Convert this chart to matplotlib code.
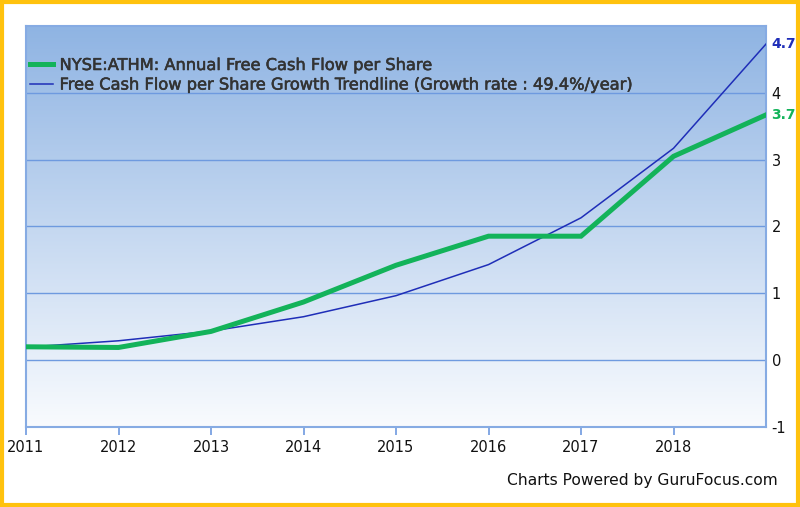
import matplotlib
matplotlib.use("Agg")
import matplotlib.pyplot as plt
import matplotlib.patheffects as pe
import numpy as np
from matplotlib.patches import Rectangle

# ---- data ----
years_idx = list(range(9))  # annual points, first at 2011 tick
fcf_per_share = [0.20, 0.19, 0.43, 0.87, 1.42, 1.855, 1.855, 3.05, 3.67]
trendline = [0.195, 0.29, 0.435, 0.65, 0.965, 1.43, 2.13, 3.17, 4.73]
x_tick_labels = ["2011", "2012", "2013", "2014", "2015", "2016", "2017", "2018"]
y_ticks = [-1, 0, 1, 2, 3, 4]
label_fcf = "NYSE:ATHM: Annual Free Cash Flow per Share"
label_trend = "Free Cash Flow per Share Growth Trendline (Growth rate : 49.4%/year)"
end_fcf_label = "3.7"
end_trend_label = "4.7"

GREEN = "#13b35a"
BLUE = "#1f2eb8"
GRID = "#6e9adf"

fig = plt.figure(figsize=(8, 5.07), dpi=100)
fig.patch.set_facecolor("white")
ax = fig.add_axes([26/800, 1-427/507, 740/800, 401/507])

x0, x1 = 0, 8
y0, y1 = -1, 5
ax.set_xlim(x0, x1)
ax.set_ylim(y0, y1)

# gradient background
top = np.array([143, 180, 227]) / 255
bot = np.array([249, 251, 254]) / 255
t = np.linspace(0, 1, 256)[:, None]
grad = (top * (1 - t) + bot * t)[:, None, :]
grad = np.repeat(grad, 2, axis=1)
ax.imshow(grad, extent=[x0, x1, y0, y1], aspect="auto", zorder=0, origin="upper")

for yv in y_ticks:
    ax.axhline(yv, color=GRID, lw=1.0, zorder=1)

ax.plot(years_idx, trendline, color=BLUE, lw=1.1, zorder=3, label=label_trend)
ax.plot(years_idx, fcf_per_share, color=GREEN, lw=3.6, zorder=4,
        solid_joinstyle="miter", label=label_fcf)

for s in ax.spines.values():
    s.set_color("#86abe3")
    s.set_linewidth(1.5)

ax.yaxis.tick_right()
ax.set_yticks(y_ticks)
ax.set_yticklabels([str(v) for v in y_ticks], fontsize=10.5, color="#111111")
ax.tick_params(axis="y", length=0, pad=4)

ax.set_xticks(range(len(x_tick_labels)))
ax.set_xticklabels(x_tick_labels, fontsize=10.5, color="#111111")
ax.tick_params(axis="x", length=6, color=GRID, width=1.2, pad=3, direction="out")

# end labels
ax.annotate(end_trend_label, xy=(1.0, trendline[-1]), xycoords=("axes fraction", "data"),
            xytext=(4, 0), textcoords="offset points", ha="left", va="center",
            color=BLUE, fontsize=10, fontweight="bold")
ax.annotate(end_fcf_label, xy=(1.0, fcf_per_share[-1]), xycoords=("axes fraction", "data"),
            xytext=(4, 0), textcoords="offset points", ha="left", va="center",
            color=GREEN, fontsize=10, fontweight="bold")

# legend
h, l = ax.get_legend_handles_labels()
leg = ax.legend(h[::-1], l[::-1], loc="upper left", bbox_to_anchor=(4/740, (427-58)/401),
                frameon=False, fontsize=11.7, handlelength=1.4, handletextpad=0.42,
                labelspacing=0.28, borderaxespad=0, borderpad=0)
for txt in leg.get_texts():
    txt.set_color("#333333")
    txt.set_path_effects([pe.withStroke(linewidth=0.4, foreground="#333333")])

fig.text(778/800, 1-481/507, "Charts Powered by GuruFocus.com", ha="right", va="center",
         fontsize=11.2, color="#111111")

fig.patches.append(Rectangle((0.002, 0.003), 0.996, 0.994, transform=fig.transFigure,
                             fill=False, edgecolor="#ffc20e", linewidth=3))

fig.savefig("out.png", dpi=100)
